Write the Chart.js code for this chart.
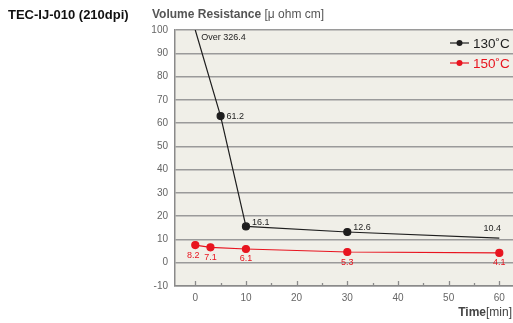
<!DOCTYPE html>
<html>
<head>
<meta charset="utf-8">
<script src="https://cdn.jsdelivr.net/npm/chart.js@4.4.1/dist/chart.umd.min.js"></script>
<style>
  body { margin: 0; background: #fff; font-family: "Liberation Sans", Arial, sans-serif; }
  #wrap { position: relative; width: 513px; height: 323px; }
  canvas { position: absolute; left: 0; top: 0; }
  .t { position: absolute; white-space: nowrap; }
</style>
</head>
<body>
<div id="wrap">
  <canvas id="resChart" width="513" height="323"></canvas>
  <div class="t" style="left:8px;top:7px;font-size:13px;font-weight:bold;color:#111;">TEC-IJ-010 (210dpi)</div>
  <div class="t" style="left:152px;top:7px;font-size:12px;color:#555;"><b>Volume Resistance</b> [&mu; ohm cm]</div>
  <div class="t" style="right:1px;top:305px;font-size:12px;color:#444;"><b>Time</b>[min]</div>
</div>
<script>
// Data (plotted positions, labels as printed)
const time130 = [0, 5, 10, 30, 60];
const values130 = [100, 63, 15.6, 13.2, 10.6];
const labels130 = ['Over 326.4', '61.2', '16.1', '12.6', '10.4'];
const time150 = [0, 3, 10, 30, 60];
const values150 = [7.6, 6.6, 5.9, 4.6, 4.2];
const labels150 = ['8.2', '7.1', '6.1', '5.3', '4.1'];
const seriesNames = ['130˚C', '150˚C'];
const xTicks = [0, 10, 20, 30, 40, 50, 60];
const xMinorTicks = [5, 15, 25, 35, 45, 55];

const BLACK = '#1e1e1e';
const RED = '#e8141f';

// plot background + inner tick marks + point labels + legend
const decor = {
    id: 'decor',
    beforeDraw(chart) {
        const a = chart.chartArea, c = chart.ctx;
        c.save();
        c.fillStyle = '#f0efe8';
        c.fillRect(a.left, a.top, a.right - a.left, a.bottom - a.top);
        c.restore();
    },
    afterDatasetsDraw(chart) {
        const c = chart.ctx, x = chart.scales.x, a = chart.chartArea;
        c.save();
        c.strokeStyle = '#8a8a8a';
        c.lineWidth = 1.3;
        xTicks.forEach(v => {
            const px = Math.round(x.getPixelForValue(v)) + 0.5;
            c.beginPath(); c.moveTo(px, a.bottom); c.lineTo(px, a.bottom - 5); c.stroke();
        });
        xMinorTicks.forEach(v => {
            const px = Math.round(x.getPixelForValue(v)) + 0.5;
            c.beginPath(); c.moveTo(px, a.bottom); c.lineTo(px, a.bottom - 3); c.stroke();
        });

        c.font = '9px "Liberation Sans", Arial, sans-serif';
        c.textBaseline = 'middle';
        // 130 labels
        const m0 = chart.getDatasetMeta(0).data;
        c.fillStyle = BLACK;
        m0.forEach((p, i) => {
            if (i === 0) { c.textAlign = 'left'; c.fillText(labels130[i], p.x + 6, a.top + 8); }
            else if (i === m0.length - 1) { c.textAlign = 'center'; c.fillText(labels130[i], p.x - 7, p.y - 10); }
            else { c.textAlign = 'left'; c.fillText(labels130[i], p.x + 6, p.y - (i === 1 ? 0 : 4)); }
        });
        // 150 labels
        const m1 = chart.getDatasetMeta(1).data;
        c.fillStyle = RED;
        c.textAlign = 'center';
        m1.forEach((p, i) => {
            c.fillText(labels150[i], p.x - (i === 0 ? 2 : 0), p.y + 10);
        });

        // legend
        const cols = [BLACK, RED];
        c.font = '13.5px "Liberation Sans", Arial, sans-serif';
        c.textAlign = 'left';
        [43, 63].forEach((y, i) => {
            c.strokeStyle = cols[i]; c.fillStyle = cols[i]; c.lineWidth = 1.2;
            c.beginPath(); c.moveTo(450, y); c.lineTo(469, y); c.stroke();
            c.beginPath(); c.arc(459.5, y, 3, 0, Math.PI * 2); c.fill();
            c.fillText(seriesNames[i], 473, y + 1);
        });
        c.restore();
    }
};

const ctx = document.getElementById('resChart').getContext('2d');
new Chart(ctx, {
    type: 'line',
    data: {
        datasets: [{
            label: seriesNames[0],
            data: time130.map((t, i) => ({ x: t, y: values130[i] })),
            borderColor: BLACK,
            backgroundColor: BLACK,
            borderWidth: 1.2,
            pointRadius: [0, 3.5, 3.5, 3.5, 0],
            tension: 0
        }, {
            label: seriesNames[1],
            data: time150.map((t, i) => ({ x: t, y: values150[i] })),
            borderColor: RED,
            backgroundColor: RED,
            borderWidth: 1.2,
            pointRadius: 3.5,
            tension: 0
        }]
    },
    options: {
        responsive: false,
        animation: false,
        layout: { autoPadding: false, padding: { top: 30, left: 0, right: 0, bottom: 0 } },
        plugins: { legend: { display: false }, tooltip: { enabled: false } },
        scales: {
            x: {
                type: 'linear',
                min: -4,
                max: 62.7,
                afterBuildTicks: s => { s.ticks = xTicks.map(v => ({ value: v })); },
                afterFit: s => { s.height = 37; s.paddingLeft = 0; s.paddingRight = 0; },
                grid: { display: false, drawTicks: false },
                border: { display: true, color: '#8a8a8a', width: 1.5 },
                ticks: { color: '#666', padding: 6, maxRotation: 0,
                    font: { size: 10, family: '"Liberation Sans", Arial, sans-serif' } }
            },
            y: {
                min: -10,
                max: 100,
                afterFit: s => { s.width = 175; s.paddingTop = 0; s.paddingBottom = 0; },
                grid: { color: '#9a9a9a', lineWidth: 1.5, drawTicks: false },
                border: { display: true, color: '#8a8a8a', width: 1.5 },
                ticks: { stepSize: 10, color: '#666', padding: 7,
                    font: { size: 10, family: '"Liberation Sans", Arial, sans-serif' } }
            }
        }
    },
    plugins: [decor]
});
</script>
</body>
</html>
